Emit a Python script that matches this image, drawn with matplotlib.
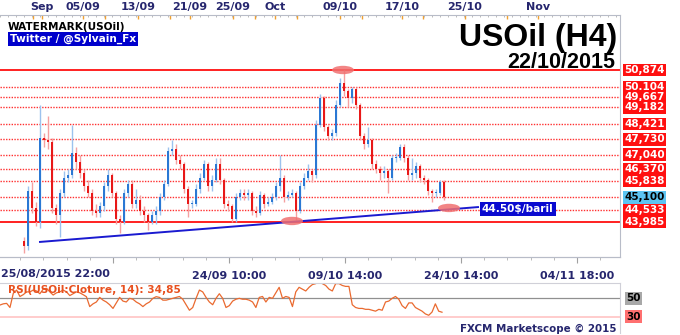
import numpy as np
import matplotlib
matplotlib.use('Agg')
import matplotlib.pyplot as plt
from matplotlib.patches import Ellipse

# ---------------- data ----------------
first_open = 43.1
closes = [42.9, 45.4, 44.6, 44.0, 47.8, 47.7, 47.6, 44.6, 44.3, 45.3,
          46.0, 46.1, 47.1, 46.7, 46.2, 45.6, 45.3, 44.5, 44.4, 44.7,
          45.6, 46.1, 45.3, 44.1, 44.0, 45.3, 45.7, 44.8, 45.0, 44.5,
          44.3, 44.0, 44.3, 44.5, 45.1, 45.7, 47.2, 47.3, 46.8, 46.6,
          45.5, 44.8, 44.8, 45.5, 46.0, 46.6, 45.6, 45.9, 46.6, 45.9,
          44.8, 44.7, 44.1, 45.1, 45.3, 45.2, 45.3, 44.5, 44.4, 45.2,
          44.8, 44.9, 45.1, 45.6, 46.0, 45.1, 45.2, 45.3, 44.5, 45.6,
          46.0, 46.3, 46.1, 48.4, 49.6, 48.3, 47.9, 48.0, 49.3, 50.3,
          49.9, 49.6, 50.0, 49.3, 47.9, 47.5, 47.7, 46.6, 46.4, 46.2,
          46.3, 46.0, 46.9, 46.9, 47.4, 46.9, 46.1, 46.2, 46.5, 46.0,
          45.9, 45.4, 45.3, 45.3, 45.8, 45.1]
highs = [43.3, 45.6, 45.8, 44.9, 49.3, 48.0, 48.8, 47.8, 44.8, 45.5,
         46.3, 46.4, 48.4, 47.4, 47.0, 46.4, 45.9, 45.5, 44.8, 44.9,
         45.8, 46.4, 46.2, 45.4, 44.3, 45.5, 45.9, 45.9, 45.5, 45.2,
         44.7, 44.4, 44.5, 44.7, 45.3, 45.9, 47.4, 47.7, 47.5, 47.0,
         46.7, 45.6, 45.0, 45.7, 46.2, 46.8, 46.7, 46.1, 46.9, 46.9,
         46.0, 45.0, 44.8, 45.3, 45.5, 45.5, 45.5, 45.4, 44.7, 45.4,
         45.3, 45.1, 45.3, 45.8, 47.0, 46.1, 45.4, 45.5, 45.4, 45.8,
         46.2, 46.6, 46.4, 48.6, 49.8, 49.7, 48.4, 48.2, 49.5, 50.5,
         50.874, 50.0, 50.1, 50.1, 49.4, 48.0, 48.3, 47.8, 46.8, 46.5,
         46.5, 46.4, 47.0, 47.1, 47.5, 47.5, 47.0, 46.9, 46.7, 46.6,
         46.1, 46.0, 45.5, 45.5, 45.9, 45.9]
lows = [42.6, 42.7, 44.4, 43.8, 43.7, 47.4, 47.3, 44.4, 43.9, 43.3,
        45.1, 45.8, 46.0, 46.4, 46.0, 45.4, 45.1, 44.3, 44.2, 44.2,
        44.5, 45.4, 45.1, 43.9, 43.5, 43.9, 45.1, 44.6, 44.6, 44.3,
        44.0, 43.6, 43.9, 43.9, 44.3, 45.0, 45.6, 47.0, 46.6, 46.4,
        45.3, 44.2, 44.6, 44.7, 45.3, 45.9, 45.4, 45.4, 45.8, 45.7,
        44.6, 44.5, 44.0, 44.0, 45.0, 45.0, 45.0, 44.3, 44.2, 44.3,
        44.6, 44.7, 44.8, 45.0, 45.4, 44.9, 45.0, 45.1, 44.07, 44.4,
        45.5, 45.9, 45.8, 46.0, 48.3, 48.1, 47.7, 47.7, 47.9, 49.2,
        49.7, 49.2, 49.4, 49.1, 47.7, 47.3, 47.4, 46.4, 46.2, 45.9,
        46.0, 45.3, 45.9, 46.7, 46.8, 46.7, 45.9, 45.9, 46.0, 45.8,
        45.7, 45.2, 44.9, 45.1, 45.2, 45.0]

levels = [50.874, 50.104, 49.667, 49.182, 48.421, 47.730, 47.040, 46.370,
          45.838, 45.100, 44.533, 43.985]
level_labels = ['50,874', '50,104', '49,667', '49,182', '48,421', '47,730',
                '47,040', '46,370', '45,838', '45,100', '44,533', '43,985']
solid_levels = [50.874, 43.985]
current_price = 45.100

rsi = [42.7, 44, 44.5, 40, 55.5, 59, 52, 54, 57, 57, 59, 58, 55, 60, 61, 57,
       53.6, 56, 57, 59, 57, 53, 55, 57, 56, 54, 51.8, 41, 44, 46, 51, 48, 46,
       43, 39, 45, 51, 47, 46, 50, 49, 46, 44, 41, 44, 46, 50, 51.8, 51, 48,
       48, 49, 50, 51, 52, 49, 43, 37, 40, 50, 59, 57, 51, 46, 43, 50, 55, 50,
       40, 42, 47, 49, 50, 49, 49, 48, 46, 40, 51, 52, 46, 51, 50, 56, 62, 50,
       52, 51, 41, 57, 62, 60, 58, 62, 65, 66, 68, 66, 64, 60, 58, 66, 66, 64,
       63, 63, 43, 40, 39, 39, 38, 38, 37, 36, 38, 37, 46, 47, 50, 52, 49, 42,
       39, 45, 45, 40, 38, 36, 33, 31.5, 35, 44, 36, 34.85]
rsi_label = 'RSI(USOil:Cloture, 14): 34,85'
rsi_levels = [50, 30]

top_tick_pos = [4.5, 14.75, 28.5, 41.5, 52.25, 62.75, 79, 94.5, 110.25, 128.5]
top_tick_labels = ['Sep', '05/09', '13/09', '21/09', '25/09', 'Oct', '09/10',
                   '17/10', '25/10', 'Nov']
top_extra_ticks = [2.25, 20.25, 36.5, 57.75, 68.25, 84.5, 99.75, 120.75]
bottom_tick_pos = [22.25, 51.25, 80.25, 109.25, 138.25]
bottom_tick_labels = ['', '24/09 10:00', '09/10 14:00', '24/10 14:00',
                      '04/11 18:00']
first_bottom_label = '25/08/2015 22:00'

trend_x = [4, 113.5]
trend_y = [43.08, 44.66]
trend_label = '44.50$/baril'

# ---------------- figure ----------------
W, H = 680, 335
fig = plt.figure(figsize=(W / 100, H / 100), dpi=100)
fig.patch.set_facecolor('white')

def fx(px):
    return px / W

def fy(py):
    return 1 - py / H

NAVY = '#26266e'
GRID = '#b8bcc8'

ax = fig.add_axes([0, fy(257), fx(620), fy(15) - fy(257)])
ax.set_xlim(-6, 149)
ax.set_ylim(42.397, 53.367)
ax.set_facecolor('white')

# horizontal levels
for lv in levels:
    if lv in solid_levels:
        ax.axhline(lv, color='#ff2020', lw=1.4, zorder=1)
    else:
        ax.axhline(lv, color='#ff3030', lw=1.0, ls=(0, (1, 1)), zorder=1)

# candles
n = len(closes)
xs = np.arange(n)
opens = [first_open] + closes[:-1]
up = [c >= o for o, c in zip(opens, closes)]
wick_cols = ['#9cc2ee' if u else '#f5a0a0' for u in up]
body_cols = ['#2a78d4' if u else '#e81818' for u in up]
ax.vlines(xs, lows, highs, colors=wick_cols, lw=1.0, zorder=2)
bottoms = [min(o, c) for o, c in zip(opens, closes)]
heights = [max(abs(c - o), 0.04) for o, c in zip(opens, closes)]
ax.bar(xs, heights, bottom=bottoms, width=0.6, color=body_cols, zorder=3,
       linewidth=0)

# trend line
ax.plot(trend_x, trend_y, color='#1a1ad0', lw=1.4, zorder=4)

# ellipses
for (cx, cy) in [(79.75, 50.874), (67.0, 44.03), (106.25, 44.62)]:
    ax.add_patch(Ellipse((cx, cy), 5.5, 0.38, facecolor='#f07070',
                         edgecolor='none', alpha=0.85, zorder=5))

# trend label
ax.text(114.5, trend_y[1] - 0.08, trend_label, color='white', fontsize=7.6,
        fontweight='bold', va='center', ha='left', zorder=6,
        bbox=dict(boxstyle='square,pad=0.18', facecolor='#0a0ad0',
                  edgecolor='none'))

# level labels on right
ytr = ax.get_yaxis_transform()
for lv, lab in zip(levels, level_labels):
    if lv == current_price:
        fc, tc = '#5cc4f2', 'black'
    else:
        fc, tc = '#ff1010', 'white'
    ax.text(1.007, lv, lab, transform=ytr, color=tc, fontsize=7.5,
            fontweight='bold', ha='left', va='center', clip_on=False,
            bbox=dict(boxstyle='square,pad=0.12', facecolor=fc,
                      edgecolor='none'))

# spines
ax.spines['left'].set_visible(False)
for s in ['top', 'bottom', 'right']:
    ax.spines[s].set_color(GRID)
    ax.spines[s].set_linewidth(0.8)

ax.set_yticks([])
ax.xaxis.set_ticks_position('top')
ax.set_xticks(top_tick_pos + top_extra_ticks)
ax.set_xticklabels(top_tick_labels + [''] * len(top_extra_ticks))
ax.set_xticks(np.arange(-6, 149, 2.0), minor=True)
ax.tick_params(axis='x', which='major', direction='in', length=3,
               color='#f0a030', width=1, pad=2, labelsize=8, labelcolor=NAVY)
ax.tick_params(axis='x', which='minor', direction='in', length=1.5,
               color='#b0b0b0', width=0.6)
for t in ax.get_xticklabels():
    t.set_fontweight('bold')

sec = ax.secondary_xaxis('bottom')
sec.set_xticks(bottom_tick_pos)
sec.set_xticklabels(bottom_tick_labels)
sec.set_xticks(np.arange(-6.75 + 5.8, 149, 5.8), minor=True)
sec.tick_params(axis='x', which='major', direction='out', length=4,
                color='#a0a0a0', pad=6, labelsize=8, labelcolor=NAVY)
sec.tick_params(axis='x', which='minor', direction='out', length=2,
                color='#b0b0b0')
sec.spines['bottom'].set_color(GRID)
for t in sec.get_xticklabels():
    t.set_fontweight('bold')
fig.text(fx(1), fy(274), first_bottom_label, color=NAVY, fontsize=8,
         fontweight='bold', ha='left', va='center')

# ---------------- RSI ----------------
rax = fig.add_axes([0, fy(333), fx(620), fy(283) - fy(333)])
rax.set_xlim(-6, 149)
rax.set_ylim(12.2, 66.7)
rx = np.linspace(-6, 104.5, len(rsi))
rax.axhline(rsi_levels[0], color='#909090', lw=0.9)
rax.axhline(rsi_levels[1], color='#ffc4c4', lw=1.2)
rax.plot(rx, rsi, color='#ea6a30', lw=0.9)
rax.set_xticks([])
rax.set_yticks([])
rax.spines['left'].set_visible(False)
rax.spines['bottom'].set_visible(False)
for s in ['top', 'right']:
    rax.spines[s].set_color('#d0d0d8')
    rax.spines[s].set_linewidth(0.8)
rtr = rax.get_yaxis_transform()
rax.text(1.01, rsi_levels[0], '50', transform=rtr, color='black',
         fontsize=7.5, fontweight='bold', ha='left', va='center',
         clip_on=False, bbox=dict(boxstyle='square,pad=0.12',
                                  facecolor='#a8a8a8', edgecolor='none'))
rax.text(1.01, rsi_levels[1], '30', transform=rtr, color='black',
         fontsize=7.5, fontweight='bold', ha='left', va='center',
         clip_on=False, bbox=dict(boxstyle='square,pad=0.12',
                                  facecolor='#ff7070', edgecolor='none'))
fig.text(fx(8), fy(290), rsi_label, color='#e8501e', fontsize=7.6,
         fontweight='bold', ha='left', va='center')
fig.text(fx(617), fy(329), 'FXCM Marketscope \u00a9 2015', color=NAVY,
         fontsize=7.4, fontweight='bold', ha='right', va='center')

# ---------------- titles ----------------
fig.text(fx(617), fy(46), 'USOil (H4)', family='Liberation Sans',
         fontsize=23, fontweight='bold', color='black', ha='right',
         va='baseline')
fig.text(fx(615), fy(68), '22/10/2015', family='Liberation Sans',
         fontsize=15.5, fontweight='bold', color='black', ha='right',
         va='baseline')
fig.text(fx(8), fy(30.5), 'WATERMARK(USOil)', fontsize=7.6,
         fontweight='bold', color='black', ha='left', va='baseline')
fig.text(fx(10), fy(42), 'Twitter / @Sylvain_Fx', fontsize=7.6,
         fontweight='bold', color='white', ha='left', va='baseline',
         bbox=dict(boxstyle='square,pad=0.15', facecolor='#0000cc',
                   edgecolor='none'))

fig.savefig('out.png', dpi=100)
